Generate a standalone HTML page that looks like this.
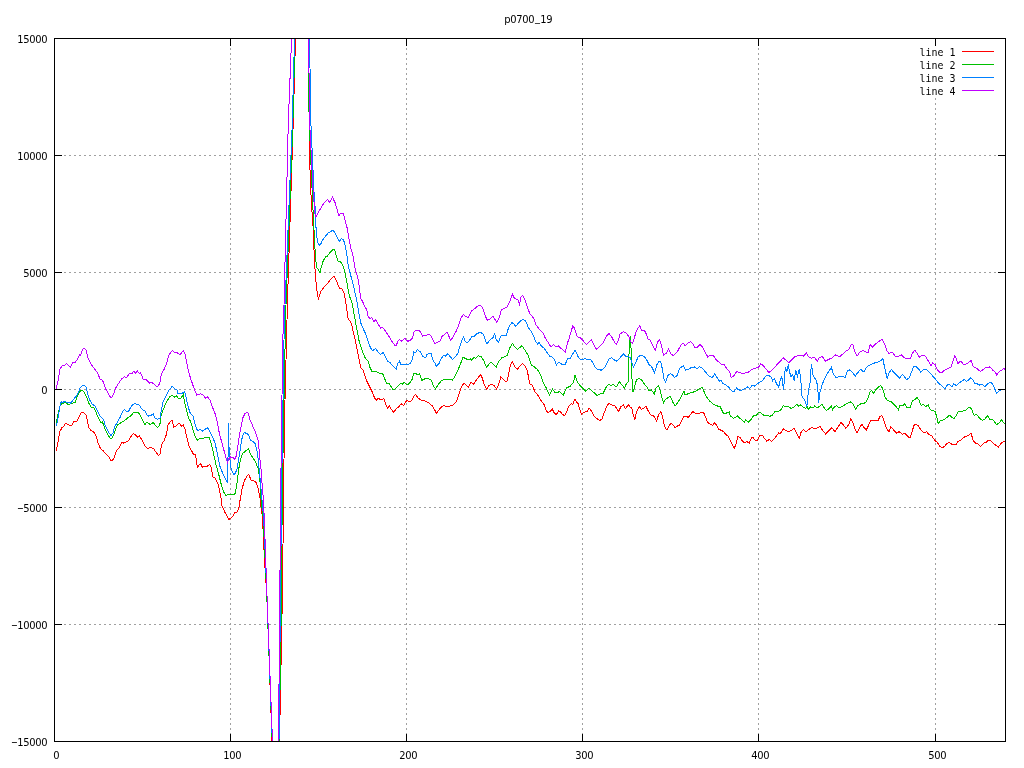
<!DOCTYPE html>
<html><head><meta charset="utf-8"><title>p0700_19</title>
<style>
html,body{margin:0;padding:0;background:#fff;overflow:hidden}
svg{display:block}
text{font-family:'DejaVu Sans Mono','Liberation Mono',monospace;font-size:11px;fill:#000}
.z{font-family:'DejaVu Sans','Liberation Sans',sans-serif}
.g{stroke:#a0a0a0;stroke-width:1;stroke-dasharray:2 3;fill:none}
.t{stroke:#000;stroke-width:1;fill:none}
.l{fill:none;stroke-width:1;stroke-linejoin:miter;stroke-linecap:butt}
</style></head><body>
<svg width="1024" height="768" viewBox="0 0 1024 768" shape-rendering="crispEdges">
<rect x="0" y="0" width="1024" height="768" fill="#ffffff"/>
<g class="g">
<line x1="230.5" y1="38" x2="230.5" y2="742"/>
<line x1="406.5" y1="38" x2="406.5" y2="742"/>
<line x1="582.5" y1="38" x2="582.5" y2="742"/>
<line x1="758.5" y1="38" x2="758.5" y2="742"/>
<line x1="935.5" y1="38" x2="935.5" y2="742"/>
<line x1="54" y1="624.5" x2="1006" y2="624.5"/>
<line x1="54" y1="507.5" x2="1006" y2="507.5"/>
<line x1="54" y1="389.5" x2="1006" y2="389.5"/>
<line x1="54" y1="272.5" x2="1006" y2="272.5"/>
<line x1="54" y1="155.5" x2="1006" y2="155.5"/>
</g>
<rect x="918" y="46" width="80" height="51" fill="#ffffff"/>
<g class="l" stroke="#ff0000">
<polyline points="56.2,450.6 57.5,445.0 58.8,437.5 60.0,431.2 61.9,427.8 63.8,426.0 65.6,423.5 67.5,424.4 70.0,425.6 71.9,425.0 73.8,421.2 75.6,421.5 77.5,420.6 79.4,416.2 81.2,412.8 83.1,412.5 86.2,415.0 87.5,421.2 88.8,427.5 91.2,430.6 94.4,432.5 96.2,436.2 98.1,443.1 100.6,448.8 103.1,450.6 106.2,454.4 108.8,456.9 110.6,460.2 112.5,460.2 114.4,457.5 116.2,451.2 118.8,448.1 121.9,442.5 123.8,443.1 125.6,442.2 128.1,441.2 131.2,436.2 133.5,433.5 135.6,435.0 137.5,437.2 139.4,435.6 141.9,440.0 145.0,446.2 147.5,448.5 150.6,447.2 153.8,448.8 156.2,452.5 158.5,455.6 160.2,453.8 161.5,444.4 163.8,441.2 166.2,435.0 168.1,425.0 170.0,421.9 171.9,420.0 173.8,426.9 176.9,425.5 178.0,423.8 179.9,424.0 181.1,426.2 183.2,424.8 184.9,428.8 186.8,437.5 189.2,446.9 191.1,450.0 193.6,454.4 195.5,455.0 197.4,467.2 199.2,465.0 200.5,463.5 202.4,467.2 204.9,466.5 207.4,466.2 209.5,464.4 211.1,466.9 213.0,476.9 214.9,478.1 218.0,483.8 219.9,492.5 221.8,502.5 221.9,505.6 225.0,512.5 228.8,519.4 232.5,516.9 235.0,512.5 237.5,511.9 239.4,505.6 239.9,501.2 241.8,490.0 244.2,481.2 246.8,476.2 248.6,474.4 251.1,480.0 253.6,480.6 256.1,482.5 258.0,487.5 259.9,497.5 261.1,507.5 262.4,516.0 264.6,562.0 266.9,596.0 272.0,741.5"/>
<polyline points="279.5,741.5 282.5,590.0 283.5,500.0 284.5,420.0 286.5,340.0 287.5,300.0 293.3,120.0 295.5,38.5"/>
<polyline points="308.0,38.5 310.0,170.0 311.2,200.0 313.1,227.5 314.4,260.0 316.2,285.0 317.8,296.0 318.5,298.8 320.6,291.9 323.8,287.5 327.5,283.8 330.0,280.0 333.8,276.0 335.6,278.8 338.1,285.0 340.0,288.8 341.9,289.0 344.4,293.8 345.6,301.2 346.9,310.0 348.1,318.8 350.0,321.2 351.5,323.8 353.1,331.2 355.0,338.8 356.9,348.8 358.8,357.5 360.6,367.5 363.1,370.0 365.0,376.2 366.9,381.2 369.4,386.2 371.9,391.2 373.8,396.2 376.2,400.6 378.1,398.5 380.6,399.4 383.8,398.8 385.6,403.8 387.5,408.1 389.4,406.2 391.9,410.0 393.8,412.5 396.2,408.5 398.8,406.9 401.2,403.8 403.8,405.6 405.6,401.9 406.9,400.6 410.0,402.2 411.9,400.0 413.8,396.2 415.6,394.6 418.0,397.8 420.3,399.8 424.2,400.6 428.9,402.8 432.8,406.4 434.9,410.3 436.4,413.4 439.1,409.8 441.4,406.9 443.8,405.6 446.9,406.9 449.2,406.4 453.2,404.8 456.3,401.7 459.4,393.1 461.8,386.1 464.1,383.4 466.4,385.3 468.3,387.2 471.1,382.2 473.5,384.1 476.6,379.8 480.5,374.4 482.4,378.3 484.4,385.3 486.8,389.2 489.1,385.3 491.4,384.1 494.6,386.1 496.6,389.2 498.5,385.3 500.8,376.7 503.2,379.1 505.5,381.4 507.4,380.9 508.6,373.6 510.5,365.0 512.2,361.6 514.9,366.6 517.2,369.4 519.6,366.6 522.4,363.4 525.0,365.8 527.4,371.2 529.7,383.8 532.1,385.0 535.2,392.3 537.5,394.7 540.7,400.2 544.6,405.2 546.4,411.4 548.5,412.5 550.8,410.9 552.4,409.1 554.2,413.0 556.3,414.5 558.6,410.9 560.5,411.9 562.5,414.5 564.9,415.6 566.4,412.2 568.8,406.2 571.1,403.6 572.7,404.7 575.0,398.9 576.6,402.5 578.0,403.4 579.6,408.4 581.4,414.4 584.2,412.3 587.4,411.2 589.2,408.1 591.3,410.8 593.6,415.5 596.8,418.6 599.9,420.6 602.2,418.6 604.6,411.6 606.9,406.1 608.9,403.4 611.6,405.0 614.7,405.3 617.1,409.2 618.6,411.2 621.0,406.6 623.3,405.0 625.7,408.8 628.3,404.5 630.3,407.7 631.9,408.1 633.5,416.2 635.0,419.4 636.6,411.6 639.2,406.6 641.3,409.2 643.6,408.1 646.0,406.6 648.3,411.2 650.7,414.7 653.8,416.2 656.6,421.2 658.5,415.0 660.8,411.6 662.4,416.2 663.9,424.1 665.5,428.3 667.1,429.8 668.6,426.7 671.0,423.1 673.0,424.7 675.2,427.8 678.0,425.6 679.6,425.2 681.9,420.5 683.9,416.6 686.6,416.2 688.2,417.5 690.5,414.4 692.8,411.6 695.2,413.1 699.1,413.4 701.4,412.3 703.8,413.1 706.1,418.1 707.7,422.5 710.8,424.4 712.7,425.2 714.7,422.5 716.8,425.9 718.6,429.1 721.0,430.3 723.3,431.4 725.7,434.5 728.0,436.1 730.3,440.8 732.7,445.5 734.2,448.6 736.1,443.9 737.4,438.4 738.0,436.2 740.3,437.8 742.7,441.7 745.0,442.5 747.1,441.7 749.2,443.3 751.3,438.1 752.8,437.0 755.2,440.6 757.5,440.2 759.9,435.0 762.2,435.0 764.6,438.6 766.9,441.2 769.2,439.4 771.6,441.7 774.7,438.6 778.6,432.8 780.2,433.9 783.3,428.8 786.4,430.8 788.8,431.9 791.9,430.0 794.2,428.4 796.6,433.1 799.2,438.6 801.3,431.6 803.6,429.2 806.0,432.3 808.3,430.0 811.4,427.7 815.3,428.4 817.7,427.7 820.0,426.6 822.4,430.0 825.5,433.9 828.6,430.8 831.8,427.7 834.9,431.6 838.0,426.9 841.1,422.5 843.5,425.0 845.8,428.4 848.9,424.5 850.8,418.8 852.8,422.2 855.2,430.0 857.1,432.8 859.9,426.9 862.2,424.2 864.0,427.7 866.3,430.0 868.4,425.6 870.6,420.6 874.2,420.3 878.1,420.3 879.9,416.7 882.0,415.6 883.5,419.1 885.9,426.9 889.0,432.3 890.9,426.6 893.7,430.0 896.5,433.1 899.2,431.6 902.3,434.4 904.9,433.1 907.8,436.6 910.1,437.8 912.1,431.6 914.0,425.3 916.3,424.1 918.4,426.1 921.0,430.0 924.2,433.1 926.5,431.6 928.8,434.4 932.0,436.2 934.6,440.2 937.4,442.5 939.8,446.4 942.1,448.0 944.5,446.4 946.8,443.8 949.2,442.2 951.5,444.1 956.2,444.1 957.8,441.7 960.9,440.2 964.8,436.6 967.9,435.9 971.0,433.4 973.4,440.9 975.7,443.3 978.1,444.1 980.4,446.4 983.5,443.3 985.9,442.5 988.2,440.2 990.6,440.9 993.7,443.8 996.5,445.6 998.4,447.2 1001.2,443.3 1003.8,441.2 1005.4,441.7"/>
</g>
<g class="l" stroke="#00c000">
<polyline points="56.2,422.5 58.1,413.8 60.0,406.2 61.9,403.8 64.4,402.5 66.2,403.1 68.8,405.0 71.2,403.1 73.1,403.1 75.0,402.5 77.5,396.2 80.0,391.2 82.2,390.2 84.4,392.5 86.9,397.5 88.8,403.1 91.2,407.5 93.8,407.5 95.6,411.2 98.1,417.5 100.6,422.5 102.5,421.9 104.4,427.5 107.5,433.8 110.0,438.1 111.9,438.1 113.8,435.0 115.6,428.8 117.5,425.0 121.2,422.5 124.4,420.6 127.5,418.1 131.2,415.6 133.1,413.1 135.6,412.2 138.8,413.1 140.6,416.2 142.5,420.0 145.0,424.4 146.9,421.9 148.8,423.8 150.6,424.4 153.1,422.5 155.6,425.6 157.8,427.5 159.8,425.0 161.2,415.0 163.8,408.1 166.9,401.2 170.0,396.2 171.9,395.6 175.0,397.2 176.9,395.8 178.0,398.1 181.1,398.1 183.2,394.4 184.2,400.0 186.1,408.8 188.6,418.1 190.5,421.2 192.4,427.5 194.9,436.0 197.4,440.0 199.9,438.5 203.0,438.1 206.1,437.8 209.2,437.2 211.1,443.1 213.6,453.8 216.1,465.0 218.6,473.8 221.1,483.8 223.6,491.9 225.5,495.2 228.0,494.8 229.9,494.8 232.4,494.4 234.9,494.0 236.8,485.0 238.6,470.0 240.5,458.8 243.0,453.1 246.1,450.6 248.6,448.8 250.5,454.4 253.0,458.1 255.5,461.9 258.0,468.1 259.9,480.0 261.1,500.0 263.0,516.0 266.8,596.0 272.2,741.5"/>
<polyline points="279.2,741.5 281.5,596.0 282.2,500.0 283.6,420.0 285.2,340.0 286.0,305.0 292.8,126.0 295.0,38.5"/>
<polyline points="308.5,38.5 308.6,75.0 309.1,120.0 312.5,200.0 314.4,237.5 315.6,260.0 316.9,267.5 320.0,272.5 321.2,267.5 323.1,261.2 325.6,256.9 327.5,256.0 330.0,252.5 332.5,249.8 334.8,250.0 336.2,256.2 338.1,261.2 340.0,261.0 342.5,264.4 344.4,270.0 346.2,278.8 347.5,286.2 348.1,290.0 350.0,297.5 352.2,303.1 353.8,312.5 355.6,322.5 357.5,332.5 359.4,342.5 361.9,350.0 365.0,357.5 368.1,361.2 370.0,367.5 371.9,371.2 376.2,371.5 380.0,373.5 382.5,373.1 384.4,378.1 386.9,383.8 389.4,383.5 391.9,388.1 393.1,389.6 395.0,389.0 397.5,386.2 400.6,383.5 402.5,384.0 404.0,382.5 406.2,384.0 408.1,384.4 410.0,382.5 411.9,380.0 413.8,373.5 415.6,373.1 417.2,374.5 418.0,374.4 419.6,373.6 421.9,380.3 425.0,378.8 428.9,378.8 431.3,380.3 433.6,386.1 435.5,388.8 438.3,384.5 441.4,380.6 445.3,379.4 447.7,379.8 450.0,379.1 452.4,380.3 455.5,375.2 459.4,366.6 463.0,357.5 465.7,358.4 468.0,360.0 470.3,358.8 471.9,360.3 473.9,356.9 475.8,358.4 478.2,355.6 481.3,356.9 483.6,360.3 486.4,367.3 488.3,365.0 491.1,362.2 493.8,365.0 496.1,367.3 498.5,361.9 501.6,358.0 504.7,356.9 507.1,355.6 510.2,347.0 512.5,343.4 514.9,347.0 517.2,349.4 519.6,347.8 521.9,345.5 525.0,350.2 528.2,355.6 531.3,365.0 534.4,366.9 537.5,369.7 540.7,375.2 543.0,382.2 546.1,387.7 549.6,395.0 552.4,388.8 554.7,392.3 557.1,392.8 559.4,391.6 563.3,395.0 566.4,388.1 570.3,386.1 573.5,382.2 575.0,375.2 576.6,379.8 578.0,383.1 581.1,386.6 583.5,388.9 585.8,391.2 588.9,388.1 591.3,390.5 594.4,392.8 597.1,395.6 599.9,394.1 603.0,393.6 606.1,387.3 608.5,384.7 611.6,385.3 613.2,384.2 616.3,386.9 619.4,381.9 621.8,384.7 624.6,388.4 626.4,383.4 628.3,381.9 629.2,347.5 630.3,335.8 631.1,349.8 631.9,377.2 633.0,392.0 634.6,386.6 636.6,379.5 638.9,378.4 642.1,380.3 644.4,384.2 646.8,386.6 649.1,390.9 651.4,389.7 654.2,394.1 656.1,388.1 658.5,385.8 660.0,389.7 661.6,396.7 663.6,403.0 665.5,399.1 667.8,397.8 670.2,396.2 672.5,401.4 674.9,406.1 678.0,402.2 681.1,396.7 683.9,390.9 685.0,395.2 688.2,393.6 691.3,392.5 695.2,391.6 698.3,389.4 702.2,387.3 704.6,392.8 706.9,397.5 710.0,401.4 713.2,404.1 716.3,405.6 720.2,406.9 723.3,413.1 726.4,413.1 729.2,411.9 730.3,416.2 733.5,418.1 735.8,417.5 737.7,415.6 738.0,416.7 741.1,419.1 744.2,422.2 745.8,419.8 748.2,422.5 751.3,419.1 753.6,415.6 756.0,415.9 758.3,412.5 760.7,412.8 763.8,415.2 766.9,415.6 770.0,416.2 772.4,415.2 774.7,411.6 777.8,411.2 780.2,410.9 783.3,405.8 785.7,406.6 788.0,406.6 791.1,408.4 793.5,407.3 796.6,404.2 798.9,406.2 800.5,405.0 802.8,406.9 805.5,408.4 807.5,406.9 808.3,409.4 810.7,406.9 813.0,407.8 814.9,405.8 816.9,408.1 819.2,406.6 822.1,404.2 823.9,407.3 826.3,410.5 828.6,408.9 831.4,405.8 832.5,410.0 834.1,407.3 836.4,405.8 838.8,407.3 841.9,406.9 845.0,404.7 847.4,403.1 850.5,401.9 853.6,404.7 855.5,409.4 857.5,405.8 861.4,403.4 864.0,403.4 866.3,401.9 868.4,397.2 870.2,391.7 871.8,390.6 873.4,393.3 876.2,389.4 878.4,387.0 880.9,385.5 882.8,389.1 885.1,396.9 887.4,400.6 890.9,401.6 893.7,404.2 896.8,407.3 898.4,410.0 900.2,405.0 902.8,405.8 904.9,403.4 907.0,407.8 910.1,407.3 912.4,401.1 914.8,399.5 917.1,397.5 919.0,400.0 921.0,405.3 923.4,404.7 925.7,406.9 928.1,404.7 930.4,409.7 932.8,410.5 935.1,411.6 936.7,416.7 938.2,423.4 940.2,420.9 943.7,419.8 946.8,417.5 949.6,415.2 951.8,417.2 953.8,418.8 956.2,415.6 957.8,412.0 960.9,411.6 965.6,410.5 967.9,408.1 970.2,407.3 971.8,409.7 974.2,415.6 976.5,414.4 979.6,418.3 982.4,420.3 985.1,418.8 987.4,415.6 989.8,419.1 992.9,419.8 996.5,424.5 999.2,423.0 1001.5,419.8 1003.8,423.0 1005.4,424.5"/>
</g>
<g class="l" stroke="#0080ff">
<polyline points="56.2,426.2 57.5,421.2 58.8,413.8 60.0,406.2 61.2,401.9 63.1,402.2 65.0,401.2 66.9,402.5 69.4,402.5 70.6,403.1 73.1,400.0 76.2,396.2 78.1,393.1 80.0,388.1 82.5,385.6 84.4,385.2 86.2,387.2 87.5,393.8 89.4,399.4 91.9,403.8 95.0,406.2 97.5,411.2 100.6,416.9 103.5,419.4 105.0,425.0 108.8,432.5 111.2,435.6 113.1,432.5 115.0,426.2 117.5,421.9 120.0,417.5 122.5,411.9 124.4,409.4 126.2,411.2 128.1,412.2 130.6,407.5 132.5,405.0 135.0,403.5 136.9,404.8 138.8,404.4 141.2,408.1 143.1,410.0 145.0,411.2 146.9,415.0 148.8,416.2 150.6,415.6 153.1,413.8 154.4,417.5 157.5,419.4 160.0,418.1 161.2,411.2 163.1,401.9 165.6,396.9 168.8,390.0 172.2,386.5 175.0,389.0 176.9,390.0 178.0,393.8 181.8,393.5 184.5,391.5 185.5,395.0 187.4,403.8 189.9,412.5 191.1,413.8 193.0,416.2 194.9,423.8 197.4,430.6 199.9,429.4 202.4,431.2 204.9,429.4 207.4,427.5 209.2,430.6 212.4,436.9 214.9,442.5 217.4,453.8 219.9,466.2 222.4,472.5 224.9,477.5 227.4,483.1 228.1,453.8 228.6,423.1 229.1,452.5 229.9,458.8 231.1,468.8 234.2,475.0 236.8,470.0 238.6,460.0 240.5,447.5 242.4,436.2 244.2,432.5 246.8,433.5 248.6,435.0 250.5,440.6 253.0,441.5 254.9,443.1 257.4,452.5 258.6,463.8 260.5,482.5 262.4,505.0 263.6,516.0 267.0,596.0 272.3,741.5"/>
<polyline points="279.0,741.5 280.5,596.0 281.5,500.0 282.5,430.0 284.0,340.0 285.0,305.0 292.2,126.0 294.5,38.5"/>
<polyline points="309.5,38.5 311.0,126.0 314.4,200.0 315.0,206.2 316.2,231.2 317.5,242.5 319.4,245.2 320.6,244.4 322.5,240.0 325.6,236.2 328.1,233.1 330.2,231.9 332.5,230.2 334.8,232.2 336.9,236.9 339.4,241.2 341.2,238.8 343.5,239.8 345.0,245.0 346.9,255.0 348.1,265.0 350.0,272.5 351.9,280.0 353.8,287.5 353.8,287.5 356.2,297.5 358.1,308.8 360.0,318.8 361.2,324.4 363.8,330.0 366.2,335.0 368.1,341.2 370.6,348.1 372.5,350.6 375.6,348.5 377.5,351.2 380.6,354.4 383.1,352.5 385.0,356.2 387.5,361.2 390.0,362.5 393.1,366.2 396.2,369.4 397.5,363.8 399.4,361.2 401.2,365.0 403.8,364.4 408.1,364.4 410.6,363.1 412.5,358.8 413.8,351.9 415.6,352.5 417.2,349.5 418.0,350.2 420.3,351.7 422.7,356.4 425.8,357.5 426.6,354.8 428.9,353.3 431.3,353.8 432.4,358.8 433.6,361.1 434.9,363.1 436.4,366.2 439.1,363.4 441.4,358.0 443.8,355.3 445.3,356.4 447.7,353.8 450.0,356.4 452.7,359.5 455.5,356.4 457.8,353.3 459.9,346.2 461.8,340.8 463.6,336.9 464.9,340.8 467.2,343.1 469.6,340.0 471.9,336.6 473.5,336.9 476.6,333.8 480.5,332.2 483.6,334.5 485.2,340.0 486.8,343.9 489.9,340.0 493.0,337.7 494.6,333.8 496.1,339.2 498.5,342.3 500.8,336.1 503.2,335.0 506.3,335.3 508.6,327.5 511.8,322.5 513.6,323.6 515.7,326.2 518.8,322.8 521.1,320.5 523.5,319.4 525.8,321.2 528.2,327.5 531.3,331.4 533.6,336.1 535.2,340.8 537.5,343.9 539.1,342.3 541.4,346.2 543.8,347.8 546.9,352.5 550.0,356.4 552.4,357.2 554.7,359.5 556.3,365.3 558.6,362.2 561.8,364.2 565.2,364.2 568.0,358.0 570.3,358.0 572.7,354.1 575.0,350.2 577.1,353.8 578.0,356.6 581.1,360.0 584.2,358.8 587.4,359.2 590.5,359.7 592.8,362.3 595.2,367.0 597.5,369.4 601.4,370.2 604.6,367.8 606.9,363.1 609.2,358.8 611.6,357.7 614.7,360.3 617.1,361.2 620.2,357.7 623.3,353.8 625.7,356.1 628.0,356.9 630.3,357.2 631.9,363.1 633.5,367.0 635.8,362.3 638.2,356.6 641.3,355.3 644.4,356.6 646.8,360.0 649.1,364.7 651.4,366.2 654.6,372.8 656.9,364.7 659.2,361.2 660.8,361.6 662.4,369.4 663.9,378.8 665.5,382.2 667.8,375.6 670.2,373.8 672.5,374.8 674.6,377.5 677.2,375.6 679.6,368.6 681.9,366.6 683.5,365.9 685.8,370.2 688.2,369.4 691.3,367.5 694.4,367.0 697.5,368.6 699.1,366.6 701.4,367.5 704.6,370.9 708.5,375.6 712.4,377.5 714.7,374.1 717.1,377.5 719.4,381.1 721.0,380.0 722.5,383.4 725.7,385.0 728.8,387.3 731.9,391.2 734.2,391.2 736.6,388.1 738.0,389.4 741.1,390.6 744.2,389.1 747.4,387.0 749.7,388.6 752.1,385.5 754.4,386.2 758.3,383.1 761.4,381.2 763.3,380.0 765.3,376.1 768.5,375.3 770.8,376.9 772.7,380.8 774.2,378.4 776.3,383.1 778.6,387.5 780.2,380.0 781.8,376.9 783.6,389.7 784.6,376.9 785.3,366.7 786.8,372.2 788.3,364.4 789.6,372.2 791.1,376.9 792.7,374.5 794.2,380.8 795.8,370.3 797.4,376.1 799.2,369.4 800.5,376.9 802.1,397.2 804.4,399.5 806.8,406.6 808.3,392.5 810.2,381.6 811.4,363.6 812.7,373.8 813.8,376.9 816.1,380.0 817.7,386.2 818.6,403.4 820.0,392.5 822.4,383.9 825.5,376.9 828.6,371.4 831.4,367.5 833.3,373.8 835.7,377.2 838.8,376.9 842.7,376.1 845.0,377.7 847.4,370.9 849.2,369.8 852.1,371.9 855.2,376.1 857.5,373.0 860.7,369.1 863.0,371.4 864.0,371.4 867.1,366.7 870.2,364.7 874.2,363.1 878.1,362.0 881.2,360.5 882.8,358.4 884.3,365.9 887.1,378.4 889.0,373.0 891.3,369.4 894.5,373.0 897.6,376.1 899.6,378.1 902.3,374.5 904.6,376.9 906.5,379.7 909.3,377.7 911.7,371.4 913.7,366.7 916.3,366.7 918.7,369.1 920.6,372.2 923.1,369.8 926.5,369.8 928.8,371.9 932.0,375.3 935.1,378.4 938.2,382.8 942.1,386.2 944.9,388.6 947.6,384.7 949.9,385.0 951.8,387.0 953.8,383.9 956.2,385.5 959.3,382.8 962.4,380.8 964.3,379.2 966.3,381.6 969.0,379.7 971.0,377.7 973.4,380.8 975.2,383.9 977.3,383.9 979.6,385.0 982.0,384.4 985.1,386.6 988.2,383.4 991.3,382.3 993.7,386.2 996.5,393.3 998.4,391.7 1001.5,389.1 1005.4,389.1"/>
</g>
<g class="l" stroke="#c000ff">
<polyline points="56.0,388.8 57.5,383.8 58.8,376.2 60.0,369.4 61.9,366.0 65.0,365.0 66.5,363.5 68.8,365.6 70.6,367.2 73.1,362.2 75.0,362.5 76.9,360.0 79.4,355.0 80.6,355.6 82.8,349.0 84.8,348.5 86.2,350.6 88.1,358.1 91.2,364.4 93.1,366.9 96.9,371.9 100.0,378.8 102.5,380.6 103.8,383.1 105.6,388.8 108.8,394.4 110.6,397.5 111.9,397.2 113.8,393.8 116.2,386.9 118.8,383.1 121.2,379.4 124.4,376.5 126.0,378.1 130.0,373.1 131.9,373.8 133.5,371.2 135.6,373.1 137.5,371.2 139.4,373.5 140.6,372.8 143.1,379.0 146.2,379.8 149.4,383.1 151.2,382.2 153.8,384.0 156.2,386.2 158.1,386.2 160.0,382.5 161.5,373.5 163.8,370.0 166.9,362.5 168.8,355.0 172.2,350.6 175.0,352.8 177.2,352.0 178.0,353.5 180.5,354.4 183.2,350.6 184.9,353.8 186.8,363.1 188.6,371.9 191.1,380.0 194.2,388.8 196.8,395.0 198.6,394.8 200.5,393.5 203.6,395.6 205.5,398.1 207.4,396.5 209.9,400.0 212.4,406.9 214.9,413.1 217.4,422.5 219.2,432.5 221.8,442.5 224.2,451.2 226.1,458.8 227.4,462.5 228.6,458.8 230.5,456.9 233.0,457.5 234.9,459.4 236.1,456.2 238.0,445.0 239.9,432.5 241.5,425.0 243.0,417.5 244.9,413.8 246.8,412.2 248.6,413.8 249.9,420.0 251.8,423.8 254.2,429.4 256.1,433.8 258.0,440.0 259.0,448.8 259.9,458.8 261.1,470.0 262.0,482.5 263.0,495.0 264.2,516.0 267.0,596.0 272.5,741.5"/>
<polyline points="278.5,741.5 279.8,596.0 280.6,500.0 281.5,430.0 282.8,340.0 284.0,305.0 288.3,122.0 291.6,38.5"/>
<polyline points="308.5,38.5 309.8,126.0 313.0,190.0 315.0,214.0 316.2,216.9 319.4,210.6 322.5,205.0 325.6,201.2 327.5,199.4 329.8,202.5 332.5,197.2 335.0,202.5 336.9,208.8 339.0,216.0 340.6,213.2 343.5,213.5 345.0,220.0 346.9,226.9 348.8,237.5 350.6,247.5 352.5,253.1 353.8,261.2 355.6,270.6 357.5,276.2 358.8,283.8 359.4,287.5 360.6,298.1 362.5,301.2 364.4,306.2 366.9,310.0 368.1,316.2 370.0,318.8 371.9,317.5 373.8,321.9 375.6,320.0 378.1,323.8 380.6,328.1 382.5,327.5 385.6,331.2 388.8,336.2 391.9,341.2 395.0,345.6 396.5,345.0 397.8,341.2 399.4,339.4 401.2,341.2 403.1,340.0 404.8,338.1 406.2,340.6 408.1,341.2 410.6,340.0 412.5,338.1 413.8,332.5 415.6,330.6 417.2,330.6 418.0,330.3 420.3,331.4 422.7,336.1 425.8,335.6 428.2,334.5 430.5,335.3 432.8,339.2 434.9,343.9 437.5,342.3 439.9,341.2 442.2,336.1 444.6,334.5 446.9,332.2 448.5,335.3 450.5,340.3 453.2,336.9 456.3,330.9 458.6,325.2 461.0,318.1 463.3,314.2 465.7,316.6 468.3,317.3 471.9,310.6 475.0,308.4 478.2,305.6 480.5,305.3 482.8,308.4 485.2,315.8 487.5,320.5 489.9,318.9 492.7,316.2 494.6,318.9 496.9,322.5 499.2,317.3 501.6,309.5 503.9,308.8 507.1,306.9 509.4,302.5 511.0,297.8 512.5,294.4 514.6,298.6 516.4,299.1 518.0,300.2 519.6,304.4 521.1,297.0 522.7,295.5 525.0,300.2 527.4,307.2 529.7,313.4 533.6,318.1 536.0,324.7 539.1,329.1 543.0,333.0 545.3,338.1 548.5,343.1 551.1,347.0 553.2,344.7 556.3,346.6 558.6,345.9 561.8,349.1 565.2,352.2 567.2,343.9 569.6,336.9 572.7,326.2 574.2,327.5 576.6,335.3 578.0,336.9 580.8,338.1 583.5,341.2 586.6,344.7 588.9,342.0 591.3,339.7 593.6,344.4 596.4,349.1 599.9,346.2 603.0,342.8 606.1,336.6 608.9,333.4 611.6,336.6 613.9,341.2 616.3,344.4 618.3,340.5 619.9,334.2 623.3,331.6 626.4,333.4 628.8,336.6 630.3,341.2 632.4,343.6 634.2,338.1 636.6,330.3 639.7,325.9 642.1,331.1 644.4,330.3 646.8,335.0 648.0,338.9 649.9,340.0 652.7,345.2 655.3,350.3 657.7,342.0 659.6,339.4 661.6,345.9 663.6,355.3 665.5,354.5 668.6,348.8 671.0,353.8 673.3,355.6 675.7,353.0 677.2,351.9 679.6,347.5 681.1,344.7 683.0,342.8 685.0,345.6 687.4,343.6 690.5,341.6 692.8,343.6 694.4,347.2 697.5,347.2 699.9,344.4 702.2,346.7 704.6,350.9 707.7,356.9 710.0,355.6 713.2,355.0 715.5,359.2 718.6,361.9 721.0,363.9 724.1,364.7 727.2,369.4 729.6,371.7 731.1,377.2 733.5,376.4 735.8,372.5 737.4,371.4 738.0,371.9 741.1,373.0 745.0,373.0 748.9,371.9 752.1,369.4 755.2,368.3 758.3,367.5 760.7,364.1 763.0,365.2 766.1,369.1 768.9,372.5 771.6,370.3 774.7,367.5 777.8,363.6 781.0,360.5 783.3,357.8 786.4,360.5 788.8,362.5 791.9,359.7 795.0,356.6 798.2,355.8 801.3,355.0 803.6,356.2 806.3,352.7 808.3,356.6 811.4,358.1 814.6,357.8 817.4,360.9 819.2,357.8 822.4,356.6 825.5,361.2 828.6,359.4 831.8,358.1 835.7,354.7 839.6,356.6 842.7,354.2 845.8,351.1 848.9,349.5 851.3,344.8 852.8,344.4 854.4,350.3 857.1,356.2 859.9,351.9 863.0,350.3 864.0,351.1 867.9,353.1 870.2,344.8 872.6,347.2 875.7,343.8 879.6,340.9 882.4,339.4 884.3,343.3 886.7,350.3 889.0,353.4 892.1,351.9 895.2,356.2 898.4,356.6 901.2,354.7 903.8,357.3 907.0,358.9 910.1,358.9 912.4,353.4 914.8,350.3 917.1,353.4 919.5,357.3 921.8,355.3 924.2,355.3 926.5,357.8 928.8,362.0 930.9,365.6 932.8,362.8 935.1,364.7 937.4,369.8 939.8,372.5 942.1,372.2 945.2,369.8 948.4,368.3 950.7,367.5 953.1,360.5 954.6,355.8 956.5,358.9 957.8,363.6 960.9,360.9 964.0,365.2 967.1,363.6 971.0,360.5 973.4,366.7 976.5,368.3 980.4,371.4 982.8,369.8 985.9,367.5 988.2,367.8 989.8,366.7 992.9,370.3 995.2,371.9 996.8,375.3 999.2,371.4 1001.5,370.3 1003.8,368.3 1005.4,369.8"/>
</g>
<line class="l" stroke="#ff0000" x1="962" y1="51.5" x2="994" y2="51.5"/>
<line class="l" stroke="#00c000" x1="962" y1="64.5" x2="994" y2="64.5"/>
<line class="l" stroke="#0080ff" x1="962" y1="77.5" x2="994" y2="77.5"/>
<line class="l" stroke="#c000ff" x1="962" y1="90.5" x2="994" y2="90.5"/>
<g class="t">
<line x1="54.5" y1="742" x2="54.5" y2="734"/><line x1="54.5" y1="38" x2="54.5" y2="46"/>
<line x1="230.5" y1="742" x2="230.5" y2="734"/><line x1="230.5" y1="38" x2="230.5" y2="46"/>
<line x1="406.5" y1="742" x2="406.5" y2="734"/><line x1="406.5" y1="38" x2="406.5" y2="46"/>
<line x1="582.5" y1="742" x2="582.5" y2="734"/><line x1="582.5" y1="38" x2="582.5" y2="46"/>
<line x1="758.5" y1="742" x2="758.5" y2="734"/><line x1="758.5" y1="38" x2="758.5" y2="46"/>
<line x1="935.5" y1="742" x2="935.5" y2="734"/><line x1="935.5" y1="38" x2="935.5" y2="46"/>
<line x1="54" y1="741.5" x2="62" y2="741.5"/><line x1="1006" y1="741.5" x2="998" y2="741.5"/>
<line x1="54" y1="624.5" x2="62" y2="624.5"/><line x1="1006" y1="624.5" x2="998" y2="624.5"/>
<line x1="54" y1="507.5" x2="62" y2="507.5"/><line x1="1006" y1="507.5" x2="998" y2="507.5"/>
<line x1="54" y1="389.5" x2="62" y2="389.5"/><line x1="1006" y1="389.5" x2="998" y2="389.5"/>
<line x1="54" y1="272.5" x2="62" y2="272.5"/><line x1="1006" y1="272.5" x2="998" y2="272.5"/>
<line x1="54" y1="155.5" x2="62" y2="155.5"/><line x1="1006" y1="155.5" x2="998" y2="155.5"/>
<line x1="54" y1="38.5" x2="62" y2="38.5"/><line x1="1006" y1="38.5" x2="998" y2="38.5"/>
</g>
<rect class="t" x="54.5" y="38.5" width="951.0" height="703.0"/>
<g>
<text class="z" transform="scale(0.906,1)" y="23.0" x="560.15 566.78 573.40 580.02 586.64 593.27 599.89 606.51" text-anchor="middle">p0700<tspan dy="-1.5">_</tspan><tspan dy="1.5">19</tspan></text>
<text transform="scale(0.906,1)" y="56.0" x="1018.21 1024.83 1031.46 1038.08 1044.70 1051.32" text-anchor="middle">line 1</text>
<text transform="scale(0.906,1)" y="69.0" x="1018.21 1024.83 1031.46 1038.08 1044.70 1051.32" text-anchor="middle">line 2</text>
<text transform="scale(0.906,1)" y="82.0" x="1018.21 1024.83 1031.46 1038.08 1044.70 1051.32" text-anchor="middle">line 3</text>
<text transform="scale(0.906,1)" y="95.0" x="1018.21 1024.83 1031.46 1038.08 1044.70 1051.32" text-anchor="middle">line 4</text>
<text class="z" transform="scale(0.906,1)" y="746.0" x="16.00 22.63 29.25 35.87 42.49 49.12" text-anchor="middle"><tspan dy="-1" textLength="7.6" lengthAdjust="spacingAndGlyphs">-</tspan><tspan dy="1">15000</tspan></text>
<text class="z" transform="scale(0.906,1)" y="629.0" x="16.00 22.63 29.25 35.87 42.49 49.12" text-anchor="middle"><tspan dy="-1" textLength="7.6" lengthAdjust="spacingAndGlyphs">-</tspan><tspan dy="1">10000</tspan></text>
<text class="z" transform="scale(0.906,1)" y="512.0" x="22.63 29.25 35.87 42.49 49.12" text-anchor="middle"><tspan dy="-1" textLength="7.6" lengthAdjust="spacingAndGlyphs">-</tspan><tspan dy="1">5000</tspan></text>
<text class="z" transform="scale(0.906,1)" y="394.0" x="49.12" text-anchor="middle">0</text>
<text class="z" transform="scale(0.906,1)" y="277.0" x="29.25 35.87 42.49 49.12" text-anchor="middle">5000</text>
<text class="z" transform="scale(0.906,1)" y="160.0" x="22.63 29.25 35.87 42.49 49.12" text-anchor="middle">10000</text>
<text class="z" transform="scale(0.906,1)" y="43.0" x="22.63 29.25 35.87 42.49 49.12" text-anchor="middle">15000</text>
<text class="z" transform="scale(0.906,1)" y="759.0" x="62.36" text-anchor="middle">0</text>
<text class="z" transform="scale(0.906,1)" y="759.0" x="250.00 256.62 263.25" text-anchor="middle">100</text>
<text class="z" transform="scale(0.906,1)" y="759.0" x="444.26 450.88 457.51" text-anchor="middle">200</text>
<text class="z" transform="scale(0.906,1)" y="759.0" x="638.52 645.14 651.77" text-anchor="middle">300</text>
<text class="z" transform="scale(0.906,1)" y="759.0" x="832.78 839.40 846.03" text-anchor="middle">400</text>
<text class="z" transform="scale(0.906,1)" y="759.0" x="1028.15 1034.77 1041.39" text-anchor="middle">500</text>
</g>
</svg>
</body></html>
